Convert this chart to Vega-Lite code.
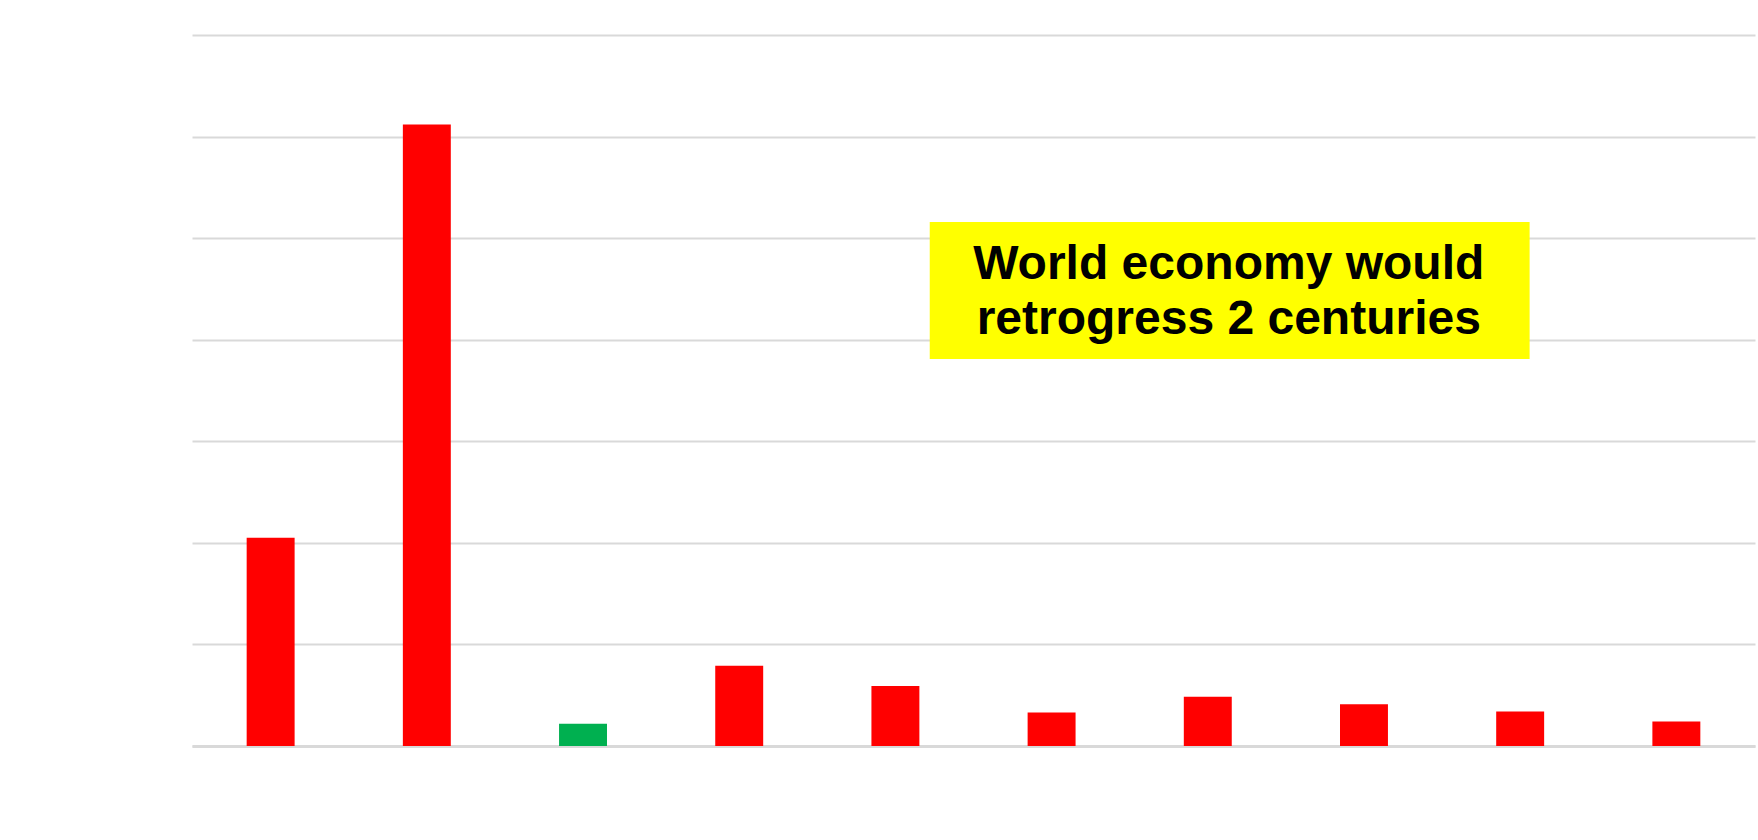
{
  "$schema": "https://vega.github.io/schema/vega-lite/v6.json",
  "autosize": {"type": "none"},
  "width": 1563,
  "height": 711,
  "padding": {"left": 192, "top": 35, "right": 3, "bottom": 94},
  "background": "white",
  "config": {"view": {"stroke": null}},
  "datasets": {
    "bars": [
      {"item": "c01", "value": 20.5, "group": "loss"},
      {"item": "c02", "value": 61.2, "group": "loss"},
      {"item": "c03", "value": 2.2, "group": "gain"},
      {"item": "c04", "value": 7.9, "group": "loss"},
      {"item": "c05", "value": 5.9, "group": "loss"},
      {"item": "c06", "value": 3.3, "group": "loss"},
      {"item": "c07", "value": 4.85, "group": "loss"},
      {"item": "c08", "value": 4.1, "group": "loss"},
      {"item": "c09", "value": 3.4, "group": "loss"},
      {"item": "c10", "value": 2.4, "group": "loss"}
    ],
    "box": [
      {"x0": 0.472, "x1": 0.8558, "y0": 38.1, "y1": 51.6}
    ],
    "note": [
      {"label": "World economy would", "tx": 0.6633, "ty": 45.96},
      {"label": "retrogress 2 centuries", "tx": 0.6633, "ty": 40.55}
    ]
  },
  "layer": [
    {
      "data": {"name": "bars"},
      "mark": {"type": "bar"},
      "encoding": {
        "x": {
          "field": "item",
          "type": "nominal",
          "sort": null,
          "scale": {"paddingInner": 0.693, "paddingOuter": 0.35},
          "axis": {"labels": false, "ticks": false, "title": null, "domainColor": "#d9d9d9", "domainWidth": 3}
        },
        "y": {
          "field": "value",
          "type": "quantitative",
          "scale": {"domain": [0, 70], "nice": false},
          "axis": {"labels": false, "ticks": false, "domain": false, "title": null, "values": [0, 10, 20, 30, 40, 50, 60, 70], "gridColor": "#d9d9d9", "gridWidth": 2}
        },
        "color": {
          "field": "group",
          "type": "nominal",
          "scale": {"domain": ["loss", "gain"], "range": ["#ff0000", "#00b050"]},
          "legend": null
        }
      }
    },
    {
      "data": {"name": "box"},
      "mark": {"type": "rect", "color": "#ffff00"},
      "encoding": {
        "x": {"field": "x0", "type": "quantitative", "scale": {"domain": [0, 1], "nice": false, "zero": false}, "axis": null},
        "x2": {"field": "x1"},
        "y": {"field": "y0", "type": "quantitative"},
        "y2": {"field": "y1"}
      }
    },
    {
      "data": {"name": "note"},
      "mark": {"type": "text", "font": "Liberation Sans", "fontWeight": "bold", "fontSize": 48, "color": "#000000", "align": "center", "baseline": "alphabetic"},
      "encoding": {
        "x": {"field": "tx", "type": "quantitative", "scale": {"domain": [0, 1], "nice": false, "zero": false}, "axis": null},
        "y": {"field": "ty", "type": "quantitative"},
        "text": {"field": "label"}
      }
    }
  ],
  "resolve": {"scale": {"x": "independent"}}
}
